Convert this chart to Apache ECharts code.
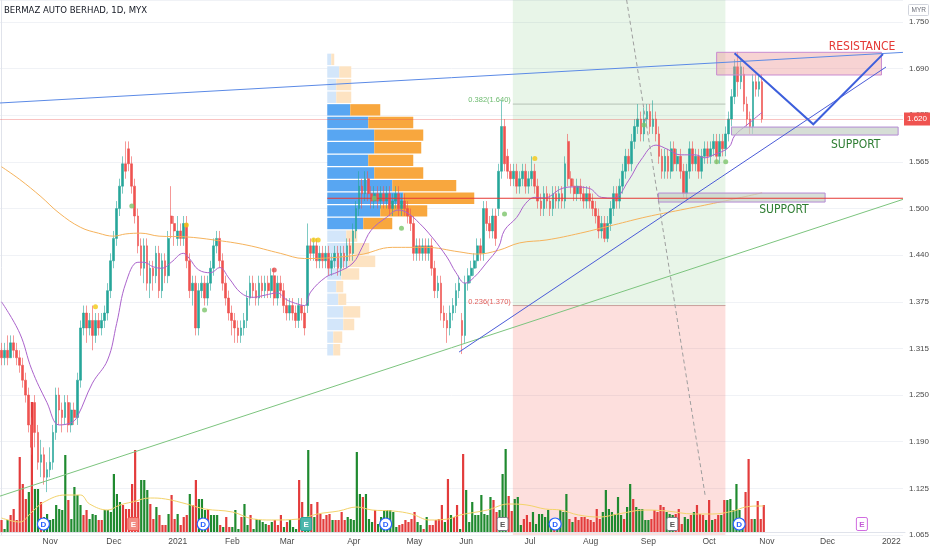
<!DOCTYPE html>
<html>
<head>
<meta charset="utf-8">
<script src="https://cdn.jsdelivr.net/npm/echarts@6/dist/echarts.min.js"></script>
<style>
  html, body { margin: 0; padding: 0; background: #fff; }
  #chart { width: 932px; height: 550px; }
</style>
</head>
<body>
<div id="chart"></div>
<script>
// 标题
const TITLE = 'BERMAZ AUTO BERHAD, 1D, MYX';
// 时间轴：总槽位（含未来空白）与月份标签
const SLOTS = 298;
const monthLabels = ['Nov', 'Dec', '2021', 'Feb', 'Mar', 'Apr', 'May', 'Jun', 'Jul', 'Aug', 'Sep', 'Oct', 'Nov', 'Dec', '2022'];
const monthStarts = [16, 37, 58, 76, 94, 116, 136, 153, 174, 194, 213, 233, 252, 272, 293];
// 价格轴
const priceMin = 1.0625, priceMax = 1.7795, priceStep = 0.0625;
const lastClose = 1.620;

// K线 [open, close, low, high]
const candles = [
  // Oct 2020
  [1.31,1.30,1.29,1.32],[1.30,1.31,1.29,1.32],[1.31,1.30,1.29,1.33],[1.30,1.32,1.30,1.33],[1.32,1.31,1.30,1.33],
  [1.31,1.30,1.29,1.32],[1.30,1.29,1.28,1.31],[1.29,1.27,1.26,1.30],[1.27,1.25,1.24,1.28],[1.25,1.21,1.20,1.26],
  [1.21,1.18,1.17,1.22],[1.24,1.20,1.18,1.25],[1.20,1.16,1.15,1.21],[1.16,1.17,1.14,1.19],[1.17,1.14,1.13,1.18],
  [1.14,1.15,1.12,1.16],
  // Nov
  [1.15,1.16,1.14,1.18],[1.16,1.20,1.15,1.21],[1.20,1.25,1.19,1.26],[1.25,1.23,1.21,1.26],[1.23,1.22,1.20,1.24],
  [1.22,1.24,1.21,1.25],[1.24,1.21,1.20,1.25],[1.21,1.23,1.20,1.24],[1.23,1.22,1.21,1.24],[1.22,1.27,1.21,1.28],
  [1.27,1.34,1.26,1.35],[1.34,1.36,1.33,1.37],[1.36,1.34,1.32,1.37],[1.34,1.35,1.33,1.36],[1.35,1.33,1.31,1.37],
  [1.33,1.35,1.32,1.36],[1.35,1.34,1.33,1.36],[1.34,1.35,1.33,1.36],[1.35,1.36,1.34,1.37],[1.36,1.39,1.35,1.40],
  [1.39,1.43,1.38,1.44],
  // Dec
  [1.43,1.46,1.42,1.47],[1.46,1.50,1.45,1.51],[1.50,1.53,1.49,1.54],[1.53,1.56,1.52,1.57],[1.56,1.55,1.54,1.59],
  [1.58,1.56,1.55,1.59],[1.56,1.53,1.52,1.57],[1.53,1.49,1.48,1.54],[1.49,1.45,1.44,1.50],[1.45,1.42,1.41,1.46],
  [1.42,1.45,1.40,1.46],[1.45,1.40,1.39,1.46],[1.40,1.42,1.38,1.43],[1.42,1.41,1.39,1.43],[1.41,1.44,1.40,1.45],
  [1.44,1.39,1.38,1.45],[1.39,1.43,1.38,1.44],[1.43,1.41,1.40,1.44],[1.41,1.46,1.40,1.47],[1.49,1.48,1.46,1.53],
  [1.48,1.47,1.45,1.49],
  // Jan 2021
  [1.46,1.47,1.45,1.49],[1.47,1.46,1.45,1.48],[1.46,1.48,1.45,1.49],[1.48,1.43,1.42,1.49],[1.43,1.39,1.38,1.44],
  [1.39,1.40,1.37,1.41],[1.40,1.34,1.33,1.41],[1.34,1.39,1.33,1.40],[1.39,1.40,1.38,1.41],[1.40,1.38,1.37,1.41],
  [1.38,1.40,1.37,1.41],[1.40,1.42,1.39,1.43],[1.42,1.45,1.41,1.46],[1.45,1.46,1.44,1.47],[1.46,1.43,1.42,1.47],
  [1.43,1.40,1.39,1.44],[1.40,1.38,1.37,1.41],[1.38,1.36,1.35,1.39],
  // Feb
  [1.36,1.35,1.33,1.37],[1.35,1.34,1.32,1.36],[1.34,1.33,1.32,1.35],[1.33,1.34,1.32,1.35],[1.34,1.35,1.33,1.36],
  [1.35,1.38,1.34,1.39],[1.38,1.40,1.37,1.41],[1.40,1.39,1.38,1.41],[1.39,1.38,1.37,1.40],[1.38,1.40,1.37,1.41],
  [1.40,1.39,1.38,1.41],[1.39,1.40,1.38,1.41],[1.40,1.39,1.38,1.41],[1.39,1.41,1.38,1.42],[1.41,1.38,1.37,1.42],
  [1.38,1.40,1.37,1.41],[1.40,1.39,1.38,1.41],[1.39,1.37,1.36,1.40],
  // Mar
  [1.37,1.36,1.35,1.38],[1.36,1.37,1.35,1.38],[1.37,1.36,1.35,1.38],[1.36,1.35,1.34,1.37],[1.35,1.37,1.34,1.38],
  [1.37,1.36,1.35,1.38],[1.36,1.34,1.33,1.37],[1.37,1.45,1.36,1.48],[1.45,1.44,1.43,1.46],[1.44,1.45,1.43,1.46],
  [1.45,1.43,1.42,1.46],[1.43,1.44,1.42,1.45],[1.44,1.43,1.42,1.45],[1.43,1.44,1.42,1.45],[1.44,1.42,1.41,1.45],
  [1.42,1.43,1.41,1.44],[1.43,1.44,1.42,1.45],[1.44,1.42,1.41,1.45],[1.42,1.44,1.41,1.45],[1.44,1.43,1.42,1.45],
  [1.43,1.45,1.42,1.46],[1.45,1.44,1.43,1.46],
  // Apr
  [1.44,1.47,1.43,1.48],[1.47,1.50,1.46,1.51],[1.50,1.53,1.49,1.55],[1.53,1.52,1.50,1.54],[1.52,1.54,1.51,1.55],
  [1.54,1.52,1.51,1.55],[1.52,1.51,1.50,1.53],[1.51,1.52,1.50,1.53],[1.52,1.51,1.50,1.53],[1.51,1.52,1.50,1.53],
  [1.52,1.51,1.50,1.53],[1.51,1.52,1.50,1.53],[1.52,1.50,1.49,1.53],[1.50,1.51,1.49,1.52],[1.51,1.52,1.50,1.53],
  [1.52,1.50,1.49,1.53],[1.50,1.51,1.49,1.52],[1.51,1.50,1.49,1.52],[1.50,1.49,1.48,1.51],[1.49,1.48,1.47,1.50],
  // May
  [1.48,1.44,1.43,1.49],[1.44,1.45,1.43,1.46],[1.45,1.44,1.43,1.46],[1.44,1.45,1.43,1.46],[1.45,1.44,1.43,1.46],
  [1.44,1.45,1.43,1.46],[1.45,1.42,1.41,1.46],[1.42,1.39,1.38,1.43],[1.39,1.40,1.38,1.41],[1.40,1.36,1.35,1.41],
  [1.36,1.35,1.34,1.37],[1.35,1.34,1.32,1.36],[1.34,1.36,1.33,1.37],[1.36,1.37,1.35,1.38],[1.37,1.39,1.36,1.40],
  [1.39,1.40,1.38,1.41],[1.35,1.33,1.305,1.36],
  // Jun
  [1.33,1.40,1.32,1.41],[1.40,1.41,1.39,1.42],[1.41,1.42,1.40,1.43],[1.42,1.43,1.41,1.44],[1.43,1.45,1.42,1.46],
  [1.45,1.44,1.43,1.46],[1.44,1.50,1.43,1.51],[1.50,1.48,1.47,1.51],[1.48,1.47,1.46,1.49],[1.47,1.49,1.46,1.50],
  [1.49,1.46,1.45,1.50],[1.50,1.55,1.49,1.56],[1.55,1.61,1.54,1.645],[1.61,1.56,1.55,1.62],[1.57,1.55,1.54,1.58],
  [1.55,1.54,1.53,1.56],[1.54,1.55,1.53,1.56],[1.55,1.53,1.52,1.56],[1.53,1.54,1.52,1.55],[1.54,1.55,1.53,1.56],
  [1.55,1.53,1.52,1.56],
  // Jul
  [1.53,1.54,1.52,1.55],[1.54,1.55,1.53,1.57],[1.55,1.53,1.52,1.56],[1.53,1.51,1.50,1.54],[1.51,1.50,1.49,1.52],
  [1.50,1.52,1.49,1.53],[1.52,1.51,1.50,1.53],[1.51,1.50,1.49,1.52],[1.50,1.52,1.49,1.53],[1.52,1.51,1.50,1.53],
  [1.51,1.52,1.50,1.53],[1.52,1.51,1.50,1.53],[1.51,1.56,1.50,1.57],[1.59,1.54,1.53,1.60],[1.54,1.53,1.52,1.55],
  [1.53,1.52,1.51,1.54],[1.52,1.53,1.51,1.54],[1.53,1.52,1.51,1.54],[1.52,1.51,1.50,1.53],[1.51,1.52,1.50,1.53],
  // Aug
  [1.52,1.51,1.50,1.53],[1.51,1.50,1.49,1.52],[1.50,1.49,1.48,1.51],[1.49,1.47,1.46,1.50],[1.47,1.48,1.46,1.49],
  [1.48,1.46,1.455,1.49],[1.46,1.48,1.455,1.49],[1.48,1.50,1.47,1.51],[1.50,1.52,1.49,1.53],[1.52,1.51,1.50,1.53],
  [1.51,1.53,1.50,1.54],[1.53,1.55,1.52,1.56],[1.55,1.57,1.54,1.58],[1.57,1.56,1.55,1.58],[1.56,1.59,1.55,1.60],
  [1.59,1.61,1.58,1.62],[1.61,1.62,1.60,1.64],[1.62,1.60,1.59,1.63],[1.60,1.62,1.59,1.635],
  // Sep
  [1.62,1.63,1.61,1.64],[1.63,1.61,1.60,1.64],[1.61,1.62,1.60,1.645],[1.62,1.60,1.59,1.63],[1.60,1.57,1.56,1.61],
  [1.57,1.55,1.54,1.58],[1.55,1.57,1.54,1.58],[1.57,1.55,1.54,1.58],[1.55,1.58,1.54,1.59],[1.58,1.56,1.55,1.59],
  [1.56,1.57,1.55,1.58],[1.57,1.55,1.54,1.58],[1.55,1.52,1.515,1.56],[1.52,1.55,1.51,1.56],[1.55,1.58,1.54,1.59],
  [1.58,1.56,1.55,1.59],[1.56,1.57,1.55,1.58],[1.57,1.55,1.54,1.58],[1.55,1.57,1.54,1.58],[1.57,1.58,1.56,1.59],
  // Oct
  [1.58,1.57,1.56,1.59],[1.57,1.58,1.56,1.59],[1.58,1.59,1.57,1.60],[1.59,1.57,1.56,1.60],[1.57,1.59,1.56,1.60],
  [1.59,1.58,1.57,1.60],[1.58,1.60,1.57,1.61],[1.60,1.62,1.59,1.63],[1.62,1.65,1.61,1.66],[1.65,1.69,1.64,1.70],
  [1.69,1.67,1.65,1.71],[1.67,1.69,1.66,1.70],[1.68,1.64,1.63,1.69],[1.64,1.62,1.61,1.65],[1.62,1.61,1.60,1.63],
  [1.61,1.67,1.60,1.68],[1.67,1.66,1.65,1.68],[1.66,1.67,1.65,1.68],[1.67,1.62,1.615,1.68]
];

// 成交量（相对单位）与涨跌方向 g=涨 r=跌
const volumes = [
  12,3,12,17,23,12,75,48,33,40, 130,43,43,30,15,18,12,13,27,23, 22,77,32,13,45,37,27,17,22,13,
  18,17,12,12,22,22,20,58,38,30, 27,23,23,48,82,30,52,52,42,28, 13,25,17,7,7,18,37,13,18,7,
  15,17,38,27,52,33,33,22,23,17, 17,17,7,5,15,5,5,22,3,15, 28,7,17,3,13,12,10,8,7,10,
  12,7,17,5,10,12,5,3,52,30, 13,82,28,15,30,18,13,17,18,12, 12,12,20,12,15,13,12,80,38,35,
  38,13,10,22,8,15,22,22,22,20, 5,7,8,12,10,13,20,10,7,3, 15,7,7,12,13,27,10,53,17,15,
  27,3,78,42,10,30,17,17,37,18, 17,35,32,20,22,58,83,36,21,33, 35,7,13,17,10,20,8,18,18,15,
  22,10,7,10,22,20,38,13,10,15, 12,15,15,13,12,10,23,13,20,42, 23,20,18,35,17,13,25,48,33,25,
  23,23,12,12,13,22,20,27,25,20, 18,17,18,23,8,15,13,17,20,27, 18,17,12,32,12,13,17,17,32,32,
  33,22,48,22,13,40,73,13,13,31, 13,27
];
const volSide =
  'rggrrrrrrg' + 'rggrgggggg' + 'ggrggggrrg' + 'ggrrgggggg' + 'rrrrrrgggr' +
  'rgrrrgrrgr' + 'rrgrrgggrg' + 'ggrgrrgggr' + 'ggrgggggrg' + 'rrrgrgggrr' +
  'ggrgrrrrrg' + 'rrrrgggggr' + 'gggrgggggg' + 'grrrrrrggr' + 'grrrrrgrgr' +
  'rgrggggggg' + 'ggrrgggrrg' + 'ggrrrggggg' + 'ggrggggrgr' + 'rrrrrrrrgg' +
  'gggggrggrg' + 'ggggrrrrrg' + 'ggrrrggrgr' + 'rrgrgrrgrg' + 'gggggrrrgr' + 'rr';

// 均线读数 [bar, value]
const maFast = [
  [0,1.375],[6,1.333],[10,1.284],[15,1.240],[19,1.210],[23,1.213],[25,1.221],[30,1.266],[35,1.297],[38,1.346],
  [41,1.400],[45,1.428],[47,1.428],[50,1.422],[53,1.420],[56,1.428],[60,1.440],[62,1.433],[65,1.418],[69,1.414],
  [72,1.421],[75,1.407],[79,1.387],[83,1.381],[87,1.384],[91,1.387],[94,1.378],[97,1.373],[100,1.370],[102,1.388],
  [107,1.408],[111,1.415],[116,1.427],[119,1.448],[122,1.471],[127,1.488],[131,1.498],[134,1.494],[138,1.480],[142,1.462],
  [147,1.435],[150,1.414],[153,1.400],[156,1.408],[160,1.427],[164,1.448],[166,1.471],[170,1.488],[173,1.507],[176,1.515],
  [179,1.514],[185,1.527],[189,1.529],[194,1.527],[198,1.515],[202,1.514],[207,1.538],[211,1.565],[216,1.585],[220,1.579],
  [224,1.572],[229,1.572],[232,1.568],[235,1.572],[240,1.582],[242,1.598],[246,1.612],[251,1.629]
];
const maSlow = [
  [0,1.556],[6,1.539],[13,1.516],[19,1.494],[26,1.475],[32,1.467],[37,1.463],[41,1.466],[46,1.467],[52,1.463],
  [61,1.462],[70,1.458],[81,1.451],[92,1.440],[100,1.433],[118,1.438],[129,1.448],[140,1.448],[151,1.442],[157,1.439],
  [164,1.444],[171,1.454],[180,1.458],[191,1.467],[202,1.478],[213,1.489],[224,1.498],[235,1.507],[251,1.521]
];
const volMa = [
  [0,14],[6,10],[10,20],[14,30],[21,37],[26,37],[29,28],[35,22],[39,27],[43,30],
  [49,34],[54,33],[61,28],[67,23],[76,20],[83,13],[89,12],[98,13],[104,18],[111,21],
  [117,25],[122,22],[129,21],[135,18],[141,12],[147,13],[151,17],[160,22],[167,28],[173,27],
  [179,23],[184,22],[190,17],[197,15],[203,18],[212,22],[219,21],[228,18],[234,18],[241,21],
  [245,25],[250,26],[251,26]
];

// 成交量分布（自上而下 24 行）
const profileStart = 108;
const profileHigh = 1.7084, profileLow = 1.3023;
const valueAreaHigh = 1.641, valueAreaLow = 1.471;
const pocPrice = 1.5138;
const profileUp =   [4,12,9,9,23,41,47,47,41,47,65,76,53,36,19,21,21,14,9,11,16,16,6,6];
const profileDown = [3,12,15,15,30,45,49,47,45,49,64,71,47,29,11,21,27,18,7,8,17,11,9,7];

// 斐波那契区域
const fibFrom = 168.75, fibTo = 238.9;
const fibLevels = [1.640, 1.370];
const fibNames = ['0.382(1.640)', '0.236(1.370)'];

// 画线 [bar, price]
const trendTop = [[-0.5, 1.6415], [297.5, 1.7093]];
const trendLow = [[-0.5, 1.1146], [297.5, 1.5123]];
const trendRise = [[151, 1.3077], [291.9, 1.6897]];
const zigzag = [[241.9, 1.708], [267.9, 1.6129], [290.9, 1.707]];
const dashLine = [[206.3, 1.7795], [232.3, 1.1133]];
// 方框 [bar1, price1, bar2, price2]
const boxes = [
  [236.0, 1.7094, 290.4, 1.679],
  [240.9, 1.6092, 295.9, 1.5985],
  [216.8, 1.5208, 271.8, 1.5087]
];
const labels = ['RESISTANCE', 'SUPPORT', 'SUPPORT'];
const labelAt = [[284.0, 1.7165], [281.9, 1.5858], [258.2, 1.498]];

// 信号点
const signalDots = [
  [31,1.3684],[61,1.4779],[103,1.4578],[104.5,1.4578],[176,1.567],
  [43,1.5034],[67,1.364],[123,1.5137],[132,1.4735],[166,1.4926],[212,1.612],[236,1.5627],[239,1.5627],
  [90,1.4176]
];
const signalKind = 'yyyyyggggggggr';

// 分红/财报事件
const eventAt = [13.8, 43.4, 66.4, 100.3, 126.5, 165.0, 182.3, 220.9, 242.9, 283.3];
const eventType = 'DEDEDEDEDE';
const eventTone = ['div', 'miss', 'div', 'beat', 'div', 'flat', 'div', 'flat', 'div', 'future'];

const UP = '#26a69a', DOWN = '#ef5350';
const FONT = "'Liberation Sans', Arial, sans-serif";
const NARROW = "'Liberation Sans Narrow', 'DejaVu Sans Condensed', 'Liberation Sans', sans-serif";

const categories = [];
for (let i = 0; i < SLOTS; i++) categories.push(String(i));

const chart = echarts.init(document.getElementById('chart'));

// 成交量分布
function renderProfile(params, api) {
  const k = params.dataIndex;
  const step = (profileHigh - profileLow) / profileUp.length;
  const top = profileHigh - k * step, bot = top - step, mid = (top + bot) / 2;
  const p0 = api.coord([profileStart - 0.5, top]);
  const p1 = api.coord([profileStart - 0.5, bot]);
  const h = p1[1] - p0[1] - 1.2;
  const inVA = mid <= valueAreaHigh && mid >= valueAreaLow;
  const up = api.value(0), down = api.value(1);
  return {
    type: 'group',
    children: [
      { type: 'rect', shape: { x: p0[0], y: p0[1] + 0.6, width: up, height: h },
        style: { fill: inVA ? '#58a6f2' : '#d3e6fa' } },
      { type: 'rect', shape: { x: p0[0] + up, y: p0[1] + 0.6, width: down, height: h },
        style: { fill: inVA ? '#f8a73e' : '#fde3c2' } }
    ]
  };
}

const boxStyle = [
  { fill: 'rgba(236,150,150,0.42)', stroke: '#c98bd0' },
  { fill: 'rgba(196,208,196,0.7)', stroke: '#b48ad4' },
  { fill: 'rgba(196,208,196,0.7)', stroke: '#b48ad4' }
];
function renderBox(params, api) {
  const a = api.coord([api.value(0), api.value(1)]);
  const b = api.coord([api.value(2), api.value(3)]);
  const s = boxStyle[params.dataIndex];
  return { type: 'rect', shape: { x: a[0], y: a[1], width: b[0] - a[0], height: b[1] - a[1] },
    style: { fill: s.fill, stroke: s.stroke, lineWidth: 1 } };
}

const fibZones = [[fibFrom, priceMax, fibTo, fibLevels[1]], [fibFrom, fibLevels[1], fibTo, priceMin]];
const fibFill = ['rgba(76,175,80,0.13)', 'rgba(244,67,54,0.17)'];
function renderZone(params, api) {
  const a = api.coord([api.value(0), api.value(1)]);
  const b = api.coord([api.value(2), api.value(3)]);
  return { type: 'rect', shape: { x: a[0], y: a[1], width: b[0] - a[0], height: b[1] - a[1] },
    style: { fill: fibFill[params.dataIndex] } };
}

const labelColor = ['#e53935', '#2e7d32', '#2e7d32'];
function renderLabel(params, api) {
  const p = api.coord([api.value(0), api.value(1)]);
  return { type: 'text', x: p[0], y: p[1],
    style: { text: labels[params.dataIndex], fill: labelColor[params.dataIndex],
      font: '12px ' + NARROW, align: 'center', verticalAlign: 'middle' } };
}
const fibColor = ['#6dbb6f', '#e0605c'];
function renderFibLabel(params, api) {
  const p = api.coord([api.value(0), api.value(1)]);
  return { type: 'text', x: p[0] - 2, y: p[1] - 4,
    style: { text: fibNames[params.dataIndex], fill: fibColor[params.dataIndex],
      font: '7.5px ' + FONT, align: 'right', verticalAlign: 'middle' } };
}

const toneStyle = {
  miss: { fill: '#f28b82', stroke: '#ef5350', text: '#fff' },
  beat: { fill: '#4db6ac', stroke: '#26a69a', text: '#fff' },
  flat: { fill: '#fff', stroke: '#787b86', text: '#555' },
  future: { fill: '#fff', stroke: '#d06be0', text: '#c45bd6' }
};
function renderEvent(params, api) {
  const i = params.dataIndex;
  const p = api.coord([api.value(0), api.value(1)]);
  if (eventType[i] === 'D') {
    return { type: 'group', children: [
      { type: 'circle', shape: { cx: p[0], cy: p[1], r: 6 }, style: { fill: '#fff', stroke: '#2962ff', lineWidth: 1.2 } },
      { type: 'text', x: p[0], y: p[1] + 0.5, style: { text: 'D', fill: '#2962ff', font: 'bold 8px ' + FONT, align: 'center', verticalAlign: 'middle' } }
    ] };
  }
  const s = toneStyle[eventTone[i]];
  return { type: 'group', children: [
    { type: 'rect', shape: { x: p[0] - 5.5, y: p[1] - 6.5, width: 11, height: 13, r: 1.5 }, style: { fill: s.fill, stroke: s.stroke, lineWidth: 1 } },
    { type: 'text', x: p[0], y: p[1] + 0.5, style: { text: 'E', fill: s.text, font: 'bold 8px ' + FONT, align: 'center', verticalAlign: 'middle' } }
  ] };
}

const dotColor = { y: '#f2c811', g: '#7cc46a', r: '#e24a4a' };

function lineSeries(data, color, width, type, z) {
  return {
    type: 'line', xAxisIndex: 2, yAxisIndex: 0, data: data, symbol: 'none', silent: true,
    lineStyle: { color: color, width: width, type: type || 'solid' }, z: z || 5, animation: false
  };
}

const option = {
  animation: false,
  backgroundColor: '#ffffff',
  grid: [
    { left: 0, right: 27, top: 0, bottom: 15 },
    { left: 0, right: 27, top: 300, bottom: 18 }
  ],
  xAxis: [
    { type: 'category', gridIndex: 0, data: categories, boundaryGap: true, show: false },
    {
      type: 'category', gridIndex: 1, data: categories, boundaryGap: true,
      axisLine: { lineStyle: { color: '#e0e3eb' } }, axisTick: { show: false },
      axisLabel: {
        interval: (idx) => monthStarts.indexOf(idx) >= 0,
        formatter: (val, idx) => monthLabels[monthStarts.indexOf(idx)] || '',
        color: '#4a4a4a', fontSize: 8.5, fontFamily: FONT, margin: 5, hideOverlap: false
      },
      splitLine: { show: false }
    },
    { type: 'value', gridIndex: 0, min: -0.5, max: SLOTS - 0.5, show: false },
    { type: 'value', gridIndex: 1, min: -0.5, max: SLOTS - 0.5, show: false }
  ],
  yAxis: [
    {
      type: 'value', gridIndex: 0, position: 'right', min: priceMin, max: priceMax, interval: priceStep,
      axisLine: { show: true, lineStyle: { color: '#e0e3eb' } }, axisTick: { show: false },
      axisLabel: {
        showMaxLabel: false, color: '#4a4a4a', fontSize: 8, fontFamily: FONT, margin: 6,
        formatter: (v) => (Math.round(v * 200) / 200).toFixed(3)
      },
      splitLine: { lineStyle: { color: '#f0f2f6', width: 1 } }
    },
    { type: 'value', gridIndex: 1, min: 0, max: 232, show: false, splitLine: { show: false } }
  ],
  graphic: [
    { type: 'text', left: 4, top: 6, style: { text: TITLE, fill: '#131722', font: '9.5px ' + NARROW } },
    { type: 'rect', right: 3, top: 4, shape: { width: 20, height: 11, r: 1 }, style: { fill: '#fff', stroke: '#d1d4dc' } },
    { type: 'text', right: 6, top: 6.5, style: { text: 'MYR', fill: '#6a6d78', font: '6.5px ' + FONT } }
  ],
  series: [
    // 斐波那契区域
    { type: 'custom', xAxisIndex: 2, yAxisIndex: 0, data: fibZones, renderItem: renderZone, silent: true, z: 0 },
    lineSeries([[fibFrom, fibLevels[0]], [fibTo, fibLevels[0]]], '#b5c2b5', 1, 'solid', 1),
    lineSeries([[fibFrom, fibLevels[1]], [fibTo, fibLevels[1]]], '#c9a09c', 1, 'solid', 1),
    // 成交量分布
    { type: 'custom', xAxisIndex: 2, yAxisIndex: 0, data: profileUp.map((u, k) => [u, profileDown[k]]),
      renderItem: renderProfile, silent: true, z: 1 },
    // 成交量
    {
      type: 'bar', xAxisIndex: 1, yAxisIndex: 1, barWidth: 2.2, silent: true, z: 2,
      data: volumes.map((v, i) => ({ value: v, itemStyle: { color: volSide[i] === 'g' ? '#1f8a2f' : '#e33b3b' } }))
    },
    { type: 'line', xAxisIndex: 3, yAxisIndex: 1, data: volMa, smooth: 0.4, symbol: 'none', silent: true,
      lineStyle: { color: '#f3d36a', width: 1 }, z: 3 },
    // K线
    {
      type: 'candlestick', xAxisIndex: 0, yAxisIndex: 0, data: candles, barWidth: 2.2, z: 3,
      itemStyle: { color: UP, color0: DOWN, borderColor: UP, borderColor0: DOWN, borderWidth: 0.6 },
      markLine: {
        symbol: 'none', silent: true, animation: false,
        data: [{ yAxis: lastClose }],
        lineStyle: { color: 'rgba(239,83,80,0.35)', width: 1, type: 'solid' },
        label: { position: 'end', formatter: lastClose.toFixed(3), backgroundColor: '#ef5350', color: '#fff',
          fontSize: 8, fontFamily: FONT, padding: [3, 3, 2, 3], distance: 1 }
      }
    },
    // 均线
    { type: 'line', xAxisIndex: 2, yAxisIndex: 0, data: maSlow, smooth: 0.4, symbol: 'none', silent: true,
      lineStyle: { color: '#f6b35c', width: 1 }, z: 4 },
    { type: 'line', xAxisIndex: 2, yAxisIndex: 0, data: maFast, smooth: 0.4, symbol: 'none', silent: true,
      lineStyle: { color: '#ab63cc', width: 1 }, z: 4 },
    // POC 与趋势线
    lineSeries([[profileStart - 0.5, pocPrice], [SLOTS - 0.5, pocPrice]], '#e53935', 1),
    lineSeries(trendTop, '#5b8ae6', 1),
    lineSeries(trendLow, '#7cc47e', 1),
    lineSeries(trendRise, '#4a5bd8', 1),
    lineSeries(dashLine, '#9e9e9e', 1, [4, 3]),
    // 方框
    { type: 'custom', xAxisIndex: 2, yAxisIndex: 0, data: boxes, renderItem: renderBox, silent: true, z: 5 },
    {
      type: 'lines', coordinateSystem: 'cartesian2d', xAxisIndex: 2, yAxisIndex: 0, polyline: true, silent: true,
      data: [{ coords: zigzag }], symbol: ['none', 'arrow'], symbolSize: 7,
      lineStyle: { color: '#3d5fdc', width: 2, opacity: 1 }, z: 6
    },
    // 文字
    { type: 'custom', xAxisIndex: 2, yAxisIndex: 0, data: labelAt, renderItem: renderLabel, silent: true, z: 7 },
    { type: 'custom', xAxisIndex: 2, yAxisIndex: 0, data: fibLevels.map((p) => [fibFrom, p]),
      renderItem: renderFibLabel, silent: true, z: 7 },
    // 信号点
    {
      type: 'scatter', xAxisIndex: 2, yAxisIndex: 0, symbolSize: 5, silent: true, z: 7,
      data: signalDots.map((d, i) => ({ value: d, itemStyle: { color: dotColor[signalKind[i]] } }))
    },
    // 事件
    { type: 'custom', xAxisIndex: 3, yAxisIndex: 1, data: eventAt.map((v) => [v, 8]),
      renderItem: renderEvent, silent: true, z: 7 }
  ]
};

chart.setOption(option);
</script>
</body>
</html>
